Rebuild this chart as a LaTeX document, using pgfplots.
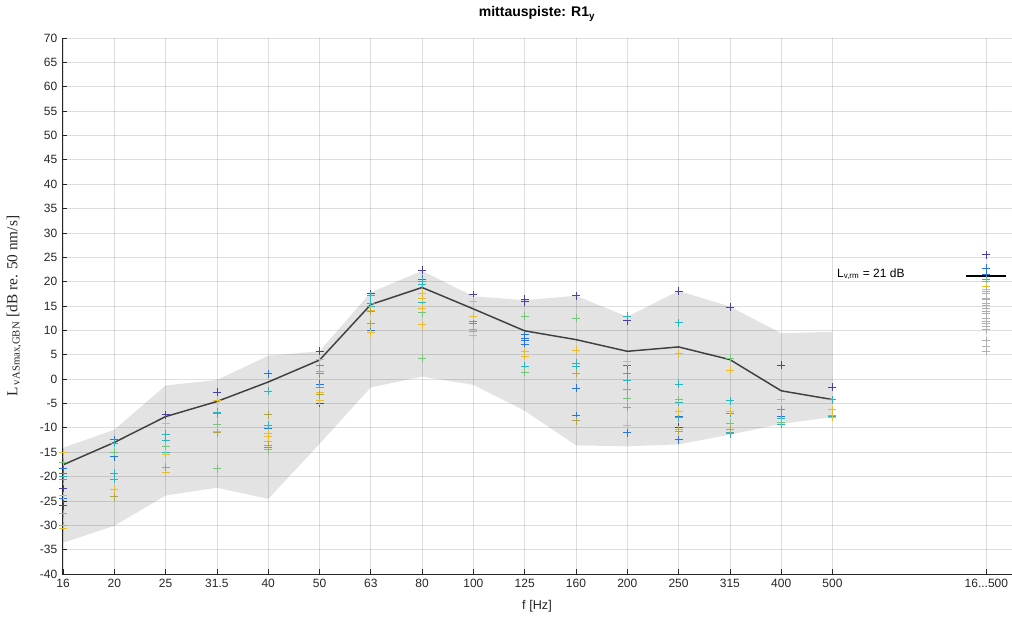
\documentclass[border=0pt]{standalone}
\usepackage{pgfplots}
\pgfplotsset{compat=1.18}
\usepackage{fontspec}
\setmainfont{Liberation Sans}
\newfontfamily\timesfont{Liberation Serif}

\definecolor{band}{HTML}{E3E3E3}
\definecolor{meanline}{HTML}{404040}
\definecolor{axgray}{HTML}{262626}
\definecolor{cdark}{HTML}{4A40A8}
\definecolor{cblue}{HTML}{2A74DE}
\definecolor{ccyan}{HTML}{2AB3C0}
\definecolor{cgreen}{HTML}{7AC27F}
\definecolor{cyellow}{HTML}{E9BC2E}
\definecolor{colive}{HTML}{B0A450}
\definecolor{cgray}{HTML}{B0B0B0}

\begin{document}
\begin{tikzpicture}
\begin{axis}[
    scale only axis,
    width=712.5pt,
    height=402pt,
    xmin=-0.02, xmax=18.5,
    ymin=-40, ymax=70,
    axis x line*=bottom,
    axis y line*=left,
    axis line style={axgray, line width=0.5pt},
    axis on top,
    clip=false,
    xtick={0,1,2,3,4,5,6,7,8,9,10,11,12,13,14,15,18},
    xticklabels={16,20,25,31.5,40,50,63,80,100,125,160,200,250,315,400,500,{16{.}{.}{.}500}},
    ytick={-40,-35,...,70},
    tick align=inside,
    major tick length=3.75pt,
    tick style={axgray, line width=0.5pt},
    grid=major,
    major grid style={black, opacity=0.13, line width=0.5pt},
    tick label style={font=\fontsize{9}{10}\selectfont, text=axgray},
    /pgf/number format/assume math mode=true,
    xlabel={f [Hz]},
    xlabel style={at={(axis description cs:0.5,-0.0597)}, anchor=center, font=\fontsize{9.5}{11}\selectfont, text=axgray},
    ylabel={\timesfont L\textsubscript{\,vASmax,GBN} [dB re. 50 nm/s]},
    ylabel style={at={(axis description cs:-0.0505,0.5)}, anchor=center, font=\fontsize{11.5}{13}\selectfont, text=axgray},
    every axis plot/.append style={line join=round},
]
% min-max band
\addplot[fill=band, draw=none] coordinates {
    (0,-14.1) (1,-10.4) (2,-1.3) (3,-0.2) (4,4.8) (5,5.7) (6,17.8) (7,22.2)
    (8,17.0) (9,16.2) (10,17.1) (11,12.8) (12,18.1) (13,14.9) (14,9.4) (15,9.7)
    (15,-7.8) (14,-9.2) (13,-11.4) (12,-13.4) (11,-13.8) (10,-13.6) (9,-6.5) (8,-1.2)
    (7,0.5) (6,-1.7) (5,-13.3) (4,-24.6) (3,-22.3) (2,-23.9) (1,-30.1) (0,-33.6)
} -- cycle;

% measured values
\addplot[only marks, mark=+, mark size=3pt, mark options={cdark, line width=0.5pt}] coordinates {
    (0,-22.5) (0,-26.0) (2,-7.3) (3,-2.7) (5,5.7) (5,-4.9) (6,17.5) (7,22.3)
    (8,17.3) (9,16.4) (9,15.9) (10,17.1) (11,12.0) (12,18.1) (12,-9.8) (13,14.8)
    (14,2.8) (15,-1.6) (18,25.5)
};
\addplot[only marks, mark=+, mark size=3pt, mark options={cblue, line width=0.5pt}] coordinates {
    (0,-18.4) (0,-19.3) (0,-24.5) (1,-12.4) (1,-15.9) (4,1.1) (4,-10.2) (5,-1.1)
    (6,10.1) (7,20.5) (9,9.1) (9,8.4) (9,7.9) (9,7.1) (10,-1.8) (10,-7.5)
    (11,2.8) (11,-11.0) (12,-7.7) (12,-12.4) (14,-7.7) (18,22.7) (18,21.6) (18,21.4)
};
\addplot[only marks, mark=+, mark size=3pt, mark options={ccyan, line width=0.5pt}] coordinates {
    (0,-20.0) (0,-20.6) (1,-13.1) (1,-19.3) (1,-20.5) (2,-11.3) (2,-12.6) (2,-15.0)
    (3,-6.8) (3,-7.1) (4,-2.5) (4,-9.5) (4,-14.1) (5,2.9) (5,1.1) (5,-1.6)
    (6,17.1) (6,15.6) (6,14.9) (7,20.1) (7,19.5) (7,15.7) (8,11.8) (8,11.5)
    (9,2.6) (10,3.3) (10,2.6) (11,12.9) (11,1.2) (11,-0.3) (12,11.6) (12,-1.1)
    (12,-4.8) (12,-7.9) (13,-4.4) (13,-7.0) (13,-11.0) (13,-11.2) (14,-6.3) (14,-8.0)
    (14,-9.2) (15,-4.2) (15,-7.7) (18,20.4)
};
\addplot[only marks, mark=+, mark size=3pt, mark options={cgreen, line width=0.5pt}] coordinates {
    (0,-17.1) (0,-27.6) (0,-30.1) (1,-15.0) (2,-13.8) (3,-9.2) (3,-18.4) (4,-14.5)
    (5,1.6) (7,13.6) (7,4.3) (8,10.3) (8,9.8) (9,12.9) (9,1.4) (10,12.5)
    (11,-3.9) (12,-4.2) (13,4.3) (13,-9.0) (14,-8.8) (15,-7.5) (18,20.0)
};
\addplot[only marks, mark=+, mark size=3pt, mark options={cyellow, line width=0.5pt}] coordinates {
    (0,-15.0) (0,-23.9) (0,-30.6) (1,-22.6) (2,-9.0) (2,-15.4) (2,-19.1) (3,-4.4)
    (3,-10.7) (4,-11.1) (4,-11.8) (4,-12.8) (5,4.0) (5,-2.7) (5,-4.4) (6,14.2)
    (6,9.5) (7,17.7) (7,16.6) (7,14.6) (7,11.2) (8,16.0) (8,12.9) (8,8.9)
    (9,5.7) (9,4.7) (10,5.9) (11,3.6) (11,-9.4) (12,5.2) (12,-6.6) (12,-10.4)
    (13,1.8) (13,-6.6) (14,-4.2) (15,-6.3) (15,-7.8) (18,19.0) (18,18.5)
};
\addplot[only marks, mark=+, mark size=3pt, mark options={colive, line width=0.5pt}] coordinates {
    (1,-24.1) (2,-18.1) (3,-11.0) (4,-7.3) (4,-13.5) (5,-3.2) (6,13.9) (6,11.4)
    (10,1.2) (10,-8.5) (11,-2.2) (11,-5.8) (12,-10.7) (13,-10.4)
};
\addplot[only marks, mark=+, mark size=3pt, mark options={cgray, line width=0.6pt}] coordinates {
    (18,18.0) (18,17.5) (18,16.6) (18,16.3) (18,15.6) (18,15.1) (18,14.6) (18,13.9)
    (18,13.4) (18,12.5) (18,11.8) (18,11.4) (18,10.8) (18,10.1) (18,7.9) (18,6.8)
    (18,5.7)
};

% mean
\addplot[meanline, line width=1.1pt] coordinates {
    (0,-17.6) (1,-13.0) (2,-7.7) (3,-4.6) (4,-0.6) (5,3.9) (6,15.3) (7,18.8)
    (8,14.4) (9,9.9) (10,8.1) (11,5.7) (12,6.6) (13,4.0) (14,-2.4) (15,-4.2)
};

% single-number value
\addplot[black, line width=1.4pt] coordinates {(17.6,21.2) (18.38,21.2)};
\node[anchor=west, font=\fontsize{9}{10}\selectfont, text=black] at (axis cs:15.0,21.6) {L\textsubscript{v,rm} = 21 dB};
\node[anchor=center, font=\fontsize{10.5}{12}\selectfont] at (axis description cs:0.5,1.0448) {\textbf{mittauspiste: R1\textsubscript{y}}};
\end{axis}
\pgfresetboundingbox
\path ([xshift=-46.5pt,yshift=-36pt]current axis.south west) rectangle ([yshift=28.5pt]current axis.north east);
\end{tikzpicture}
\end{document}
